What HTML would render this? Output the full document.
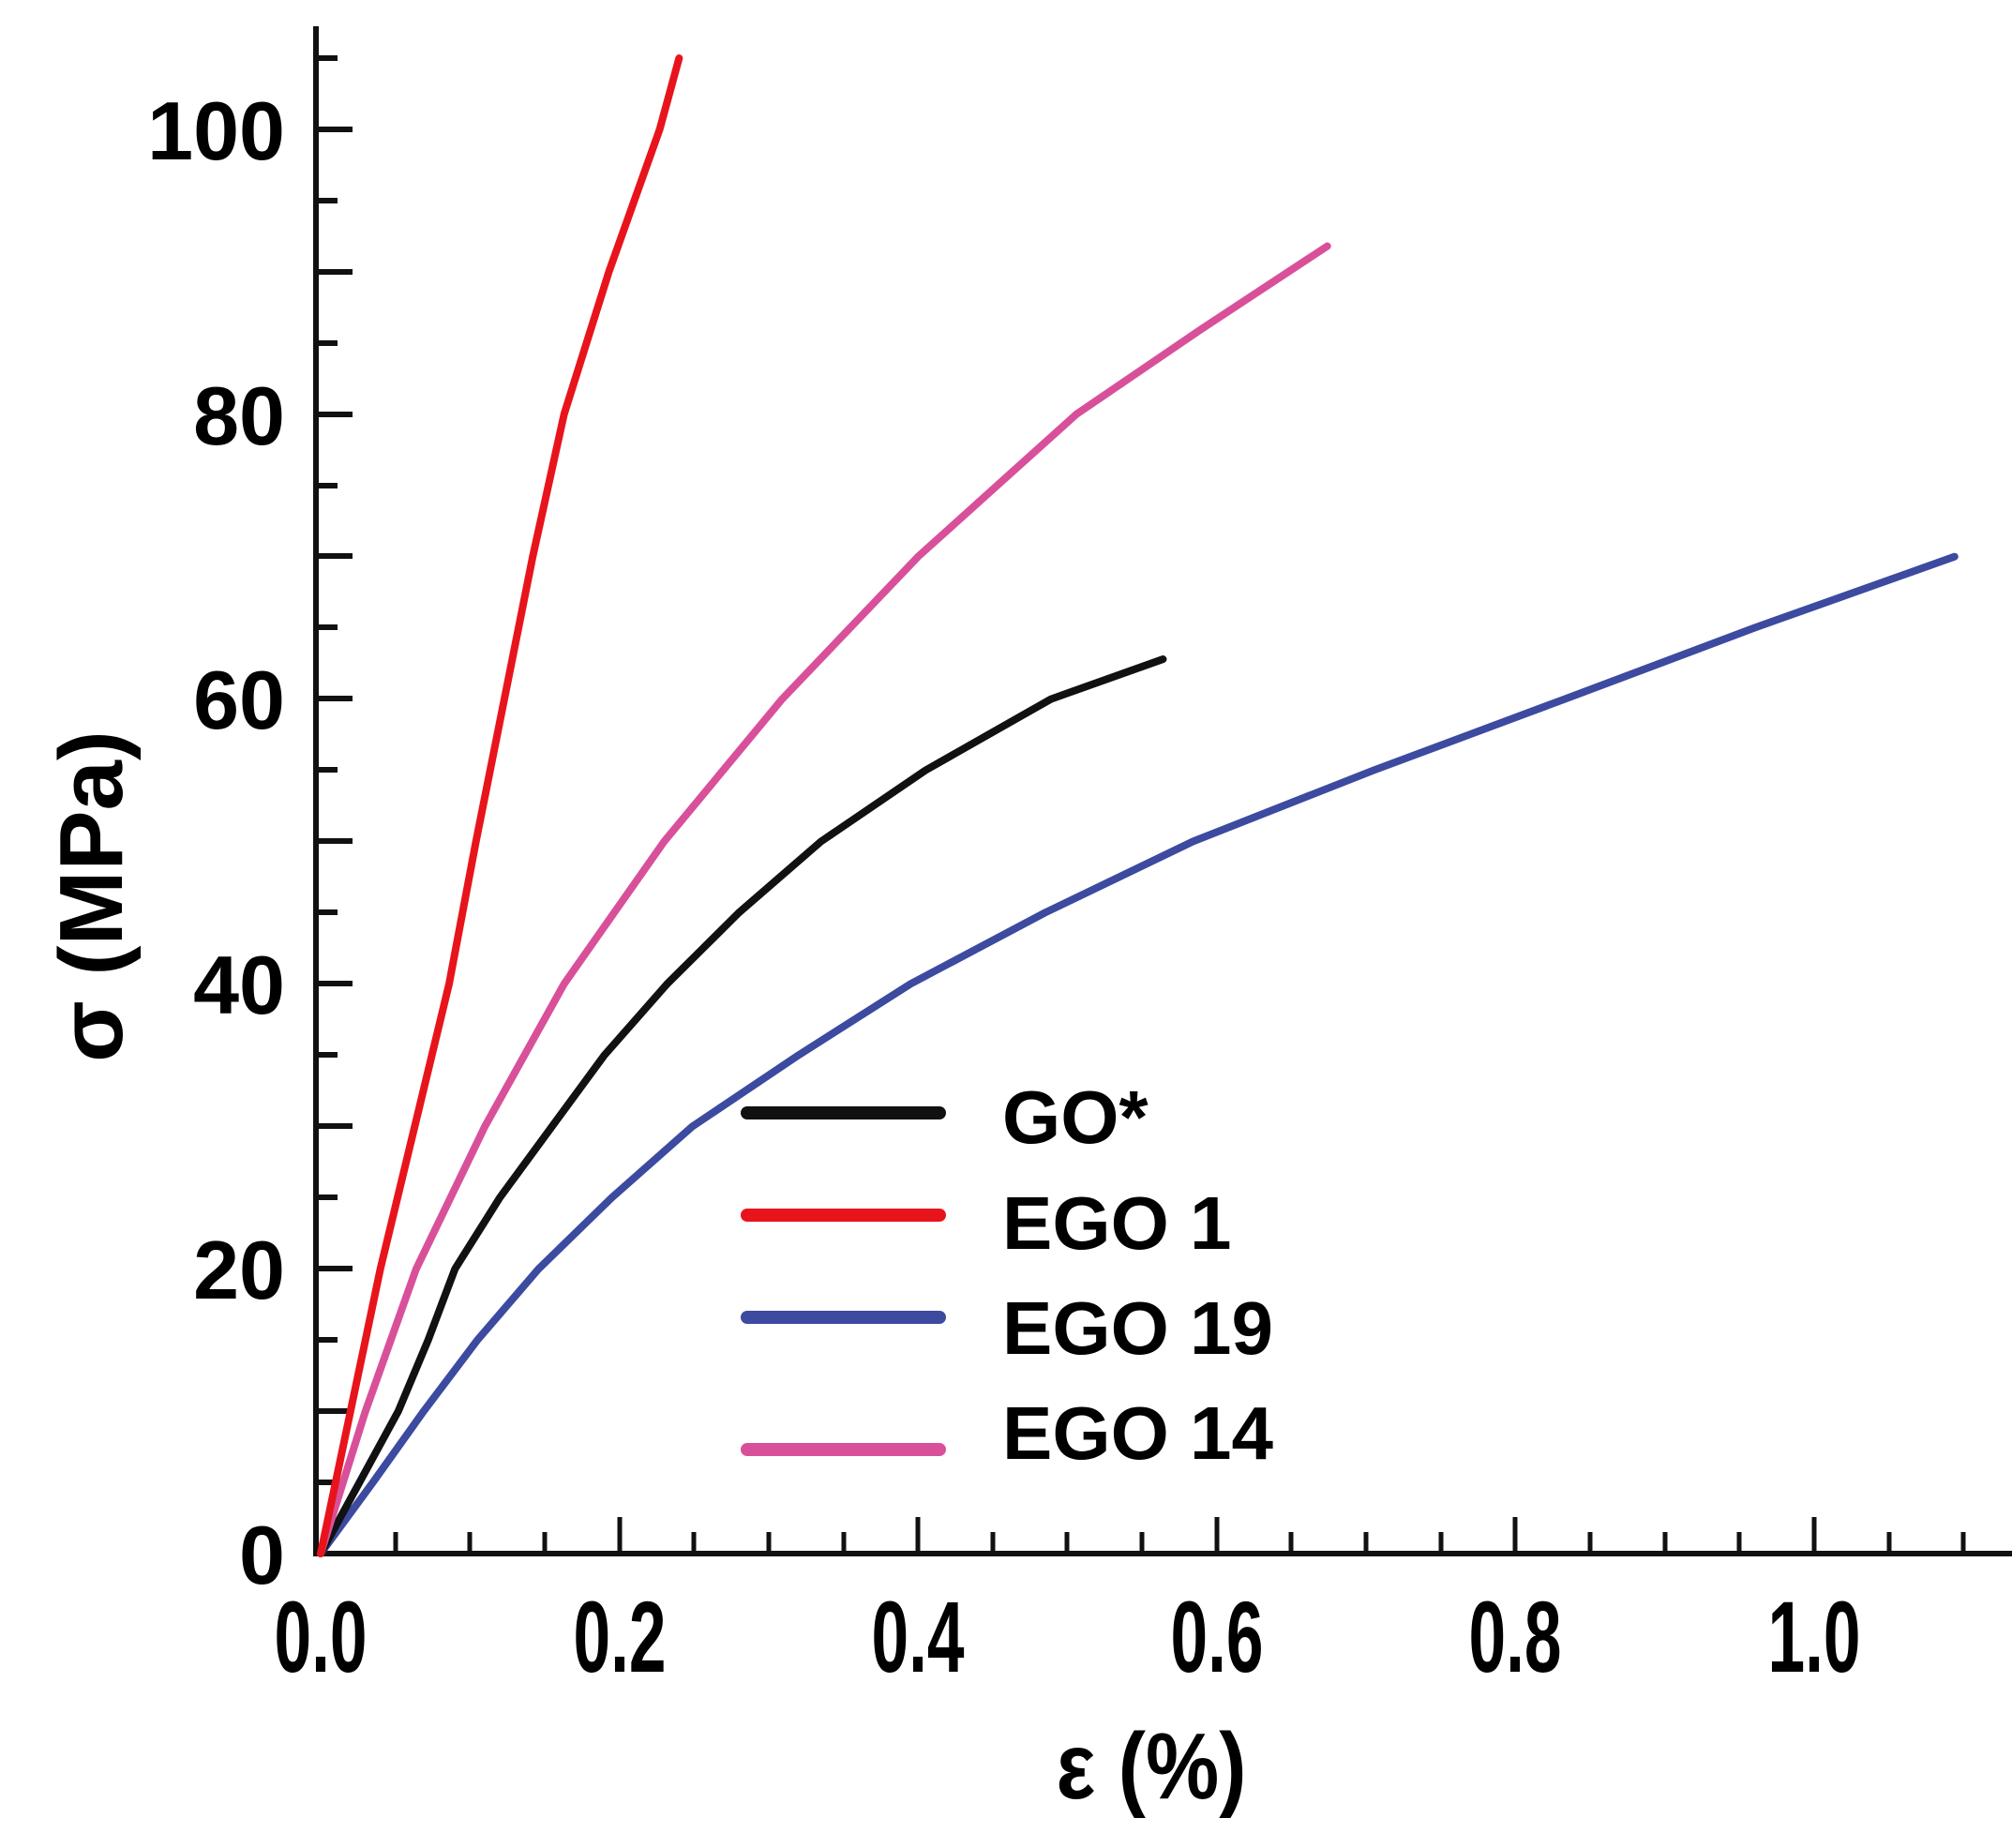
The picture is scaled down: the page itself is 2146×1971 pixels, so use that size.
<!DOCTYPE html>
<html><head><meta charset="utf-8"><style>
html,body{margin:0;padding:0;background:#fff;}
svg{display:block;}
text{font-family:"Liberation Sans",sans-serif;font-weight:bold;fill:#000;}
</style></head><body>
<svg width="2146" height="1971" viewBox="0 0 2146 1971" xmlns="http://www.w3.org/2000/svg">
<line x1="337" y1="28" x2="337" y2="1660" stroke="#111" stroke-width="6"/>
<line x1="334" y1="1657" x2="2146" y2="1657" stroke="#111" stroke-width="6"/>
<g stroke="#111" stroke-width="6">
<line x1="337" y1="1581" x2="360" y2="1581"/>
<line x1="337" y1="1505" x2="376" y2="1505"/>
<line x1="337" y1="1429" x2="360" y2="1429"/>
<line x1="337" y1="1353" x2="376" y2="1353"/>
<line x1="337" y1="1277" x2="360" y2="1277"/>
<line x1="337" y1="1201" x2="376" y2="1201"/>
<line x1="337" y1="1125" x2="360" y2="1125"/>
<line x1="337" y1="1049" x2="376" y2="1049"/>
<line x1="337" y1="973" x2="360" y2="973"/>
<line x1="337" y1="897" x2="376" y2="897"/>
<line x1="337" y1="821" x2="360" y2="821"/>
<line x1="337" y1="745" x2="376" y2="745"/>
<line x1="337" y1="669" x2="360" y2="669"/>
<line x1="337" y1="593" x2="376" y2="593"/>
<line x1="337" y1="518" x2="360" y2="518"/>
<line x1="337" y1="442" x2="376" y2="442"/>
<line x1="337" y1="366" x2="360" y2="366"/>
<line x1="337" y1="290" x2="376" y2="290"/>
<line x1="337" y1="214" x2="360" y2="214"/>
<line x1="337" y1="138" x2="376" y2="138"/>
<line x1="337" y1="62" x2="360" y2="62"/>
</g>
<g stroke="#111" stroke-width="5">
<line x1="422" y1="1657" x2="422" y2="1634"/>
<line x1="501" y1="1657" x2="501" y2="1634"/>
<line x1="581" y1="1657" x2="581" y2="1634"/>
<line x1="661" y1="1657" x2="661" y2="1618"/>
<line x1="740" y1="1657" x2="740" y2="1634"/>
<line x1="820" y1="1657" x2="820" y2="1634"/>
<line x1="900" y1="1657" x2="900" y2="1634"/>
<line x1="979" y1="1657" x2="979" y2="1618"/>
<line x1="1059" y1="1657" x2="1059" y2="1634"/>
<line x1="1138" y1="1657" x2="1138" y2="1634"/>
<line x1="1218" y1="1657" x2="1218" y2="1634"/>
<line x1="1298" y1="1657" x2="1298" y2="1618"/>
<line x1="1377" y1="1657" x2="1377" y2="1634"/>
<line x1="1457" y1="1657" x2="1457" y2="1634"/>
<line x1="1537" y1="1657" x2="1537" y2="1634"/>
<line x1="1616" y1="1657" x2="1616" y2="1618"/>
<line x1="1696" y1="1657" x2="1696" y2="1634"/>
<line x1="1776" y1="1657" x2="1776" y2="1634"/>
<line x1="1855" y1="1657" x2="1855" y2="1634"/>
<line x1="1935" y1="1657" x2="1935" y2="1618"/>
<line x1="2015" y1="1657" x2="2015" y2="1634"/>
<line x1="2094" y1="1657" x2="2094" y2="1634"/>
</g>
<g font-size="88" text-anchor="end">
<text x="304" y="1689">0</text>
<text x="304" y="1385">20</text>
<text x="304" y="1081">40</text>
<text x="304" y="777">60</text>
<text x="304" y="474">80</text>
<text x="304" y="170">100</text>
</g>
<g font-size="108" text-anchor="middle">
<text transform="translate(342,1783) scale(0.66,1)">0.0</text>
<text transform="translate(661,1783) scale(0.66,1)">0.2</text>
<text transform="translate(979,1783) scale(0.66,1)">0.4</text>
<text transform="translate(1298,1783) scale(0.66,1)">0.6</text>
<text transform="translate(1616,1783) scale(0.66,1)">0.8</text>
<text transform="translate(1935,1783) scale(0.66,1)">1.0</text>
</g>
<text font-size="100" text-anchor="middle" transform="translate(1228,1918) scale(0.88,1)">ε (%)</text>
<text font-size="96" text-anchor="middle" transform="translate(130,956) rotate(-90)">σ (MPa)</text>
<g fill="none" stroke-width="8" stroke-linecap="round" stroke-linejoin="round" transform="translate(342,1657) scale(1593,-15.19)">
<polyline vector-effect="non-scaling-stroke" stroke="#3c4aa0" points="0,0 0.035,5 0.069,10 0.105,15 0.146,20 0.195,25 0.249,30 0.32,35 0.395,40 0.485,45 0.584,50 0.705,55 0.833,60 0.96,65 1.094,70"/>
<polyline vector-effect="non-scaling-stroke" stroke="#111" points="0,0 0.026,5 0.052,10 0.072,15 0.09,20 0.12,25 0.155,30 0.19,35 0.232,40 0.28,45 0.335,50 0.405,55 0.489,60 0.564,62.8"/>
<polyline vector-effect="non-scaling-stroke" stroke="#d9509a" points="0,0 0.03,10 0.064,20 0.11,30 0.163,40 0.23,50 0.309,60 0.4,70 0.506,80 0.59,86 0.674,91.8"/>
<polyline vector-effect="non-scaling-stroke" stroke="#e8141c" points="0,0 0.02,10 0.04,20 0.063,30 0.086,40 0.104,50 0.123,60 0.142,70 0.163,80 0.193,90 0.227,100 0.24,105"/>
</g>
<g stroke-width="14" stroke-linecap="round">
<line x1="797" y1="1187" x2="1002" y2="1187" stroke="#111"/>
<line x1="797" y1="1296" x2="1002" y2="1296" stroke="#e8141c"/>
<line x1="797" y1="1405" x2="1002" y2="1405" stroke="#3c4aa0"/>
<line x1="797" y1="1546" x2="1002" y2="1546" stroke="#d9509a"/>
</g>
<g font-size="80">
<text x="1069" y="1219">GO*</text>
<text x="1069" y="1332">EGO 1</text>
<text x="1069" y="1444">EGO 19</text>
<text x="1069" y="1556">EGO 14</text>
</g>
</svg>
</body></html>
